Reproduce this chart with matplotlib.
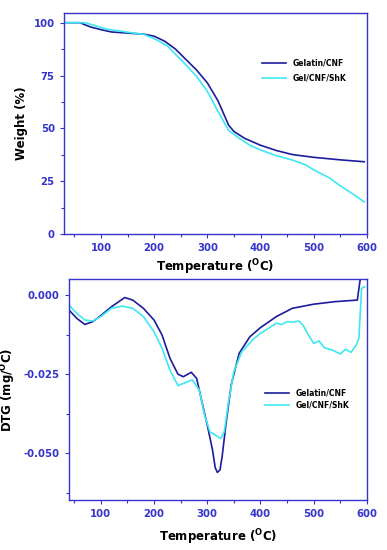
import numpy as np
import matplotlib
matplotlib.use("Agg")
import matplotlib.pyplot as plt

# TGA data (temperature, weight %)
tga_t_gel = [30, 60, 80, 100, 120, 150, 180, 200, 220, 240, 260, 280, 300, 320, 340, 350, 370, 400, 430, 460, 500, 550, 595]
tga_w_gel = [100, 100, 98, 96.7, 95.6, 95.1, 94.6, 93.6, 91.2, 87.5, 82.5, 77.5, 71.5, 63, 51.5, 48.5, 45.3, 42, 39.5, 37.6, 36.3, 35.1, 34.2]

tga_t_shk = [30, 70, 90, 110, 150, 180, 200, 225, 240, 260, 280, 300, 320, 340, 360, 380, 400, 430, 460, 485, 500, 530, 550, 575, 595]
tga_w_shk = [100, 100, 98.5, 97, 95.5, 94.5, 92.5, 89, 85, 80, 74.5, 67.5, 58, 49, 45.3, 42, 39.8, 37, 35, 32.7, 30.4, 26.5, 22.8, 18.7, 15.2]

# DTG data (temperature, mg/oC)
dtg_t_gel = [40, 55, 70, 85, 100, 120, 145, 160, 180, 200, 215, 230, 245, 255, 270, 280, 290, 300, 310, 315, 319, 324, 328, 335, 345, 360, 380, 400, 430, 460, 500, 540, 582, 590]
dtg_v_gel = [-0.0047, -0.0074, -0.0093, -0.0084, -0.0065, -0.0037, -0.0008, -0.0016, -0.0042, -0.0079, -0.0126, -0.0200, -0.0250, -0.0258, -0.0244, -0.0263, -0.0337, -0.0410, -0.0490, -0.0545, -0.0560, -0.0552, -0.0510, -0.0410, -0.0284, -0.0184, -0.0132, -0.0103, -0.0068, -0.0042, -0.0029, -0.0021, -0.0016, 0.0080]

dtg_t_shk = [40, 55, 70, 85, 100, 120, 140, 160, 180, 200, 215, 230, 245, 260, 272, 285, 295, 305, 315, 325, 332, 340, 350, 365, 385, 400, 415, 430, 440, 450, 460, 472, 480, 490, 500, 510, 520, 535, 550, 560, 570, 580, 585, 590, 596]
dtg_v_shk = [-0.0032, -0.0058, -0.0079, -0.0082, -0.0068, -0.0042, -0.0035, -0.0042, -0.0068, -0.0116, -0.0168, -0.0237, -0.0286, -0.0276, -0.0268, -0.0300, -0.0379, -0.0432, -0.0442, -0.0453, -0.0432, -0.0337, -0.0242, -0.0179, -0.0142, -0.0121, -0.0105, -0.0089, -0.0093, -0.0084, -0.0086, -0.0082, -0.0095, -0.0126, -0.0153, -0.0145, -0.0166, -0.0174, -0.0186, -0.0171, -0.0181, -0.0158, -0.0137, 0.0021, 0.0026]

labels = ["Gelatin/CNF", "Gel/CNF/ShK"]
c_dark = "#1c1c9c"
c_cyan = "#3ee8f2"
c_axis = "#3434cc"

plt.rcParams["font.family"] = "DejaVu Sans"
plt.rcParams["mathtext.default"] = "bf"

fig = plt.figure(figsize=(3.87, 5.5), dpi=100)
ax1 = fig.add_axes([0.165, 0.5745, 0.783, 0.4015])
ax2 = fig.add_axes([0.178, 0.091, 0.770, 0.402])


def style(ax):
    for s in ax.spines.values():
        s.set_color(c_axis)
        s.set_linewidth(1.0)
    ax.tick_params(which="both", direction="out", colors=c_axis, labelsize=7.3, width=0.8)
    ax.tick_params(which="major", length=3)
    ax.tick_params(which="minor", length=2)
    for lb in ax.get_xticklabels() + ax.get_yticklabels():
        lb.set_fontweight("bold")
        lb.set_color(c_axis)


ax1.plot(tga_t_gel, tga_w_gel, color=c_dark, lw=1.2, label=labels[0])
ax1.plot(tga_t_shk, tga_w_shk, color=c_cyan, lw=1.2, label=labels[1])
ax1.set_xlim(30, 600)
ax1.set_ylim(0, 104.5)
ax1.set_xticks([100, 200, 300, 400, 500, 600])
ax1.set_xticks(np.arange(50, 600, 100), minor=True)
ax1.set_yticks([0, 25, 50, 75, 100])
ax1.set_yticks([12.5, 37.5, 62.5, 87.5], minor=True)
ax1.set_xlabel("Temperature ($^{O}$C)", fontsize=8.5, fontweight="bold", labelpad=3)
ax1.set_ylabel("Weight (%)", fontsize=8.5, fontweight="bold", labelpad=4)
style(ax1)
ax1.legend(loc="upper left", bbox_to_anchor=(0.63, 0.825), frameon=False,
           prop={"size": 5.5, "weight": "bold"}, handlelength=3.2, labelspacing=0.8)

ax2.plot(dtg_t_gel, dtg_v_gel, color=c_dark, lw=1.2, label=labels[0])
ax2.plot(dtg_t_shk, dtg_v_shk, color=c_cyan, lw=1.2, label=labels[1])
ax2.set_xlim(40, 600)
ax2.set_ylim(-0.0647, 0.0051)
ax2.set_xticks([100, 200, 300, 400, 500, 600])
ax2.set_xticks(np.arange(50, 600, 100), minor=True)
ax2.set_yticks([0.0, -0.025, -0.05])
ax2.set_yticklabels(["0.000", "-0.025", "-0.050"])
ax2.set_yticks([-0.0125, -0.0375, -0.0625], minor=True)
ax2.set_xlabel("Temperature ($^{O}$C)", fontsize=8.5, fontweight="bold", labelpad=6)
ax2.set_ylabel("DTG (mg/$^{O}$C)", fontsize=8.5, fontweight="bold", labelpad=4)
style(ax2)
ax2.legend(loc="upper left", bbox_to_anchor=(0.635, 0.535), frameon=False,
           prop={"size": 5.5, "weight": "bold"}, handlelength=3.2, labelspacing=0.4)

fig.savefig("out.png", dpi=100)
